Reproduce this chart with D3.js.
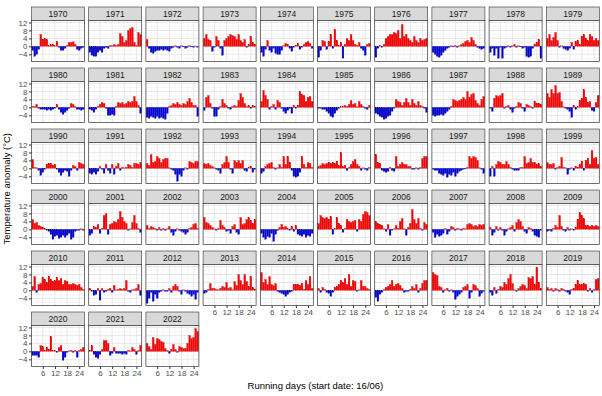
<!DOCTYPE html>
<html><head><meta charset="utf-8">
<script src="https://cdn.jsdelivr.net/npm/d3@7"></script>
<style>body{margin:0;background:#fff}svg{display:block;font-family:"Liberation Sans",Arial,sans-serif}</style>
</head><body>
<script>
const years = [1970,1971,1972,1973,1974,1975,1976,1977,1978,1979,1980,1981,1982,1983,1984,1985,1986,1987,1988,1989,1990,1991,1992,1993,1994,1995,1996,1997,1998,1999,2000,2001,2002,2003,2004,2005,2006,2007,2008,2009,2010,2011,2012,2013,2014,2015,2016,2017,2018,2019,2020,2021,2022];
const days = [1,2,3,4,5,6,7,8,9,10,11,12,13,14,15,16,17,18,19,20,21,22,23,24,25,26];
const xTicks = [6,12,18,24];
const yTicks = [-4,0,4,8,12];

const a1970 = [-2,-5,-4,-1.5,6,3.5,4,3.5,0.5,0.8,1,0.3,2.5,-0.5,-2,-2,-1,0.5,2,2,2.3,1,-1.5,-2,-1,-0.5];
const a1971 = [-3,-4.5,-5,-5,-3,-2,-3,-1,-0.5,-1,0.5,0.3,1,0.5,1,6.5,5,2,3,8,9,9.5,2,0.5,7,6];
const a1972 = [3.5,-1,-3,-3.5,-2.5,-2,-2,-1.5,-2,-1.5,-2,-2.5,-1,-0.5,0.3,-0.5,-1,0.3,-0.3,-1,-0.5,0.3,-0.3,-0.5,0.2,-0.5];
const a1973 = [4,6,3.5,3,-2.5,-0.5,5,3,-1,-4.5,3,4,5,6,5.5,5,3.5,6,3,2,3.5,-0.5,1,5,2,1];
const a1974 = [-3,-5,-1.5,3,-2,-3,-1,-3.5,-4,-4,-2,0.5,1.5,1,-1,-2.5,-0.5,0.5,1.5,-1.5,-0.5,1,2,2.5,1.5,-1];
const a1975 = [-5.5,-2,3,2.5,-1.5,2.5,6,-1,8.5,3,0.5,2,-6,1,4,3,6,3,1,0.5,2,-1,-2,-4.5,1,1.5];
const a1976 = [-5.5,-1,0.5,-0.5,1,4,5,6,6,7,6.5,8,4,11,5,6,4,3,2,5,3,2,4,3,3.5,4];
const a1977 = [-3,-4,-5,-5.5,-4.5,-3,-2,-1,-0.5,0.3,-0.3,0.5,-0.5,0.3,1,1.5,2.5,3,2,4.5,3,1,-0.5,-1,-1.5,-1];
const a1978 = [-3,-1,-4.5,-1,-6,-0.5,-6,-1,-0.5,0.3,-0.5,0.3,1,-0.5,0.3,-0.3,-1,-0.5,-5,-5.5,-5,-1,1,2,3.5,-6];
const a1979 = [4,6,3,4.5,7,3,-0.5,0.3,-1,-1.5,-2,-1,2,-1.5,2.5,3,1,5,6,4,3,6,5,3,4,3];
const a1980 = [0.5,0.5,1.5,-0.5,-1,-1,-1,-1.5,-1,-1.5,-1,-0.5,1.5,-1,-2.5,-3.5,-2.5,-1.5,-0.5,2,1.5,0.5,-1,-1,-1.5,-1];
const a1981 = [-1,-1.5,-2.5,-1,0.5,1.5,2.5,2,-0.5,-4,-4,-3.5,-4,0.5,2.5,2,2.5,1.5,2,3,2.5,3,5.5,3,1,-3];
const a1982 = [-5,-5.5,-4.5,-5,-5.5,-4.5,-5.5,-5,-5.5,-6,-3,0.5,1,2,1.5,2.5,1.5,1,2,1.5,3,4.5,2.5,1,1,-4.5];
const a1983 = [-1.5,5,6,2,-0.5,-4.5,-4.5,-1,0.5,4,2,1,-0.5,-1,0.5,1,0.5,3.5,7,5,2,0.5,1,-0.5,1,0.5];
const a1984 = [3,8.5,6,4,-1,0.5,1.5,-1,3.5,2.5,-0.5,-2,-3,-1.5,-0.5,-3,1,-0.5,1,8,6.5,6,3,5,5.5,3];
const a1985 = [-0.5,-0.5,-1,-1,-2,-3,-4.5,-5,-3,-1.5,-0.5,0.3,0.5,1,0.5,1.5,3.5,1.5,2,0.3,3,1.5,0.5,-0.5,-1,1];
const a1986 = [-3,-3.5,-4.5,-5,-6,-5.5,-4.5,-4,-2,-0.5,4,3,2.5,1,2.5,4.5,2.5,1,4,2,1,3,1,0.5,-0.5,-2.5];
const a1987 = [-4,-4.5,-4,-4,-3.5,-4,-3,-2,-1,0.5,4,3.5,3,3.5,4,5,4,8,5,6.5,7,3.5,2,1,4,5.5];
const a1988 = [-0.5,-2,4.5,6,5.5,6,7,-0.5,0.5,1,-1,-2.5,-0.5,0.5,2.5,2,-0.5,-2,1.5,1,0.5,-0.5,3,2,2,1.5];
const a1989 = [7,5,9,7,11,7,7.5,3,0.3,-0.5,-1,-2,-5,1,-1,0.3,3.5,4.5,9,5,2.5,3,-1.5,-2,2.5,6];
const a1990 = [4.5,0.5,0.3,-1,-3.5,-2,-0.5,2,2.5,2.5,1.5,2,-0.5,-2,-3.5,-2,-1,-1.5,-4,-1,1.5,1,-1,3,2.5,2];
const a1991 = [-2.5,-3,-2,-3,-1.5,1,-0.5,-2.5,2,-1,-2.5,2,-3,1,2.5,-1,0.5,0.3,0.5,2,1.5,0.5,2.5,2.5,2,3];
const a1992 = [2.5,1.5,7,3,3.5,6,5,3,4.5,5,5,0.3,-0.5,-1,-3,-6.5,-3,-4,-1,0.3,-0.5,3.5,3,2.5,3.5,3.5];
const a1993 = [2.5,2,2.5,1.5,1,0.3,-0.5,-1,-2.5,2,3,6,3,-0.5,-2.5,4,3,4,2.5,4,-1,-1.5,0.5,1,-2,-0.5];
const a1994 = [-2.5,-1.5,1,2,2.5,3,0.5,-0.5,0.3,2,0.5,6,2,6,3,-1,-4,-4.5,-4,-2,6,2,0.5,3,2.5,0.5];
const a1995 = [1,1.5,2.5,2,2.5,3,2.5,3,2.5,3.5,1.5,8,1,1.5,-1,0.5,2,3.5,4.5,2,1,-1,0.3,-0.5,-1,0.5];
const a1996 = [7,3,2.5,-1,-1.5,-2,-1.5,0.5,-1,-1.5,6,1,2,3,2,2,1,1,-0.5,-0.5,0.3,-0.5,0.5,5,6,6];
const a1997 = [-0.5,-1,-1,-2.5,-3,-3.5,-2.5,-4.5,-3,-3.5,-2,-4,-2.5,-1.5,-1,-0.5,-0.3,0.5,6,5,6,5.5,4,0.3,-0.5,-2.5];
const a1998 = [-4,1,-4,2,3.5,3,2,2,3.5,2,0.5,-0.5,-1,-1,-1,0.5,0.5,6,2.5,3,5,3,3,2,2.5,1];
const a1999 = [3,2,2,2.5,-0.5,0.5,1,5.5,0.5,0.3,-3,-0.5,0.3,-1,1,0.5,2,3.5,-1,4,5,2,9,5,5.5,2];
const a2000 = [5,3,3.5,2,1.5,1,0.5,-0.5,-1,-2.5,-5,-3.5,-3,-4.5,-4,-3,-4,-3,-2,-5,-4,-1,-0.5,-0.5,0.3,-0.5];
const a2001 = [-3,-2,1.5,1,2.5,-2,0.5,7,8,-2.5,2.5,3,4,3.5,5,9,6,4,3,-0.5,0.3,3.5,7,3,0.5,-1.5];
const a2002 = [2,0.5,1.5,1,0.5,-0.5,1,-0.5,0.5,-0.5,0.3,1.5,-1.5,-3,-1,0.3,-0.5,-1,-1.5,-2.5,-1.5,0.5,1,2.5,3,0.5];
const a2003 = [6,3.5,3,2,1,0.3,-0.5,0.5,4.5,2,1,-1,-0.5,-2,1.5,2.5,-1.5,-2.5,6,2.5,3,5,6,4.5,3,5];
const a2004 = [-2,-4,-5,-3.5,-4,-2,-6,-2.5,-0.5,1,2.5,1,1.5,0.3,-0.5,1.5,-1,2,-2.5,-3,-3.5,-2.5,-4,-3,-3.5,-2];
const a2005 = [3,7,6,5.5,6,5,6.5,-2.5,0.5,6,3,2,-1.5,0.5,5,4,3.5,4,4.5,-1,5,4,7.5,9,8.5,7];
const a2006 = [4,3,2.5,2,0.3,-1,2.5,-3,-0.5,0.3,2,0.5,4,5.5,0.3,-3,1,3,10,5,3,5.5,0.5,-0.5,3.5,2.5];
const a2007 = [-1.5,-4,-2.5,-3.5,-3,-2,0.5,-2.5,-1,1.5,1,-0.5,0.5,0.3,-0.5,0.5,0.3,2.5,3,2.5,1.5,2,1.5,2.5,2,2.5];
const a2008 = [1,-3,-1.5,1.5,-0.5,1,-0.5,-3,-1,0.3,1,2,-1,3.5,5,4,1.5,-1,-2,1,0.5,-1,-3,-3.5,-4,-0.5];
const a2009 = [-1,-0.5,-1,0.5,2,1,7,1.5,-0.5,-1,1,-0.5,0.3,-0.5,1,5,8.5,7,5.5,2,2,1.5,2,1.5,2,1.5];
const a2010 = [2,7,-1,3,3.5,6.5,5.5,4,7,5.5,4.5,5,6.5,5,6,3,5,4.5,3,3,3.5,3,2.5,3,1.5,0.5];
const a2011 = [1,-0.5,-2.5,-2,1,-5,1,-1,-0.5,0.5,1,-1,2.5,0.3,0.5,1,0.5,1,5,-0.5,-1,0.3,0.5,1,3,-2.5];
const a2012 = [-6.5,-4,-1,-5.5,-2,-4,-1,-0.5,0.3,-0.5,-0.5,1,-1,2,3,2,-0.5,-2,0.3,-0.5,-1.5,-2,-3,-2,-4.5,-1];
const a2013 = [-1.5,-1,0.5,3.5,1,1,0.5,0.3,1,2,1.5,4,1,1.5,0.3,4.5,2.5,8,5,3,8,4.5,2,7,1.5,0.5];
const a2014 = [9,4,5.5,3,7,3,2.5,3.5,-0.5,-1,-1.5,-2,-3,-2,-1,-0.5,3,3,3,2.5,3.5,0.5,5,3,7,1];
const a2015 = [1,-1,1.5,0.5,-1,-1.5,-3,-1,1.5,2,3,5,4,6,3,8,2,5,4.5,-0.5,0.3,5,2,2,1,0.5];
const a2016 = [-3.5,-5.5,-2,-1,0.5,1.5,2,3,5,2,3,3.5,2.5,1,-1,-0.5,-0.5,0.5,2,1,3,-1,1,3.5,5,5];
const a2017 = [9,8,7.5,2,1.5,-1,0.3,1,-0.5,0.3,-1,-4.5,-3,-2,-1,1.5,2,3,-4,-1,3,2.5,1,-3,-1.5,-0.5];
const a2018 = [-1,-2.5,1.5,-1.5,0.5,2,1.5,4,3,6,8,3.5,0.3,-0.5,1,2,3,2.5,1,6.5,6,7,3,11.5,4,1];
const a2019 = [1.5,0.5,1,-0.5,1,0.5,-0.5,1,0.5,-0.5,-1,-2,0.5,1,3,5,3,3,3.5,3,-0.5,1,-1,0.5,5.5,6];
const a2020 = [-2,-2,-2,-3,3,2.5,0.5,2,1,7.5,0.3,0.5,-0.5,2,3,-4.5,-3,-0.5,0.3,0.5,-0.5,0.5,-3,0.5,1,2];
const a2021 = [0.5,3,-1.5,-3,-3.5,-1.5,1,5.5,5.5,4,-2,-1,2,-1,-1,-1,-1.5,-1,-1.5,0.5,0.3,2,1,-1.5,0.5,3];
const a2022 = [4,2.5,1,7,3.5,6.5,6,5,4.5,1.5,0.5,-1,1,3.5,1,-0.5,2.5,2,1.5,1.5,4,8,6.5,7,11.5,10];

const series = [a1970,a1971,a1972,a1973,a1974,a1975,a1976,a1977,a1978,a1979,
  a1980,a1981,a1982,a1983,a1984,a1985,a1986,a1987,a1988,a1989,
  a1990,a1991,a1992,a1993,a1994,a1995,a1996,a1997,a1998,a1999,
  a2000,a2001,a2002,a2003,a2004,a2005,a2006,a2007,a2008,a2009,
  a2010,a2011,a2012,a2013,a2014,a2015,a2016,a2017,a2018,a2019,
  a2020,a2021,a2022];

const W = 602, H = 396;
const ncol = 10;
const left0 = 31.5, pitchX = 57.2, panelW = 53;
const top0 = 7, pitchY = 61, stripH = 13.5, plotH = 41;

const svg = d3.select("body").append("svg").attr("width", W).attr("height", H);
svg.append("rect").attr("width", W).attr("height", H).attr("fill", "#fff");

const x = d3.scaleLinear().domain([0.4, 26.6]).range([0, panelW]);
const y = d3.scaleLinear().domain([-7.6, 13]).range([plotH, 0]);
const yMinor = [-6,-2,2,6,10];
const xMinor = [3,9,15,21];
const n = years.length;

years.forEach((yr, i) => {
  const col = i % ncol, row = Math.floor(i / ncol);
  const g = svg.append("g").attr("transform", `translate(${left0 + col*pitchX},${top0 + row*pitchY})`);
  g.append("rect").attr("width", panelW).attr("height", stripH)
    .attr("fill", "#D9D9D9").attr("stroke", "#333").attr("stroke-width", 0.6);
  g.append("text").attr("x", panelW/2).attr("y", stripH/2 + 0.5)
    .attr("text-anchor", "middle").attr("dominant-baseline", "central")
    .attr("font-size", 8.5).attr("fill", "#1A1A1A").text(yr);
  const p = g.append("g").attr("transform", `translate(0,${stripH})`);
  p.append("rect").attr("width", panelW).attr("height", plotH).attr("fill", "#fff");
  p.selectAll(".ymi").data(yMinor).join("line")
    .attr("x1", 0).attr("x2", panelW).attr("y1", d => y(d)).attr("y2", d => y(d))
    .attr("stroke", "#EEEEEE").attr("stroke-width", 0.5);
  p.selectAll(".xmi").data(xMinor).join("line")
    .attr("y1", 0).attr("y2", plotH).attr("x1", d => x(d)).attr("x2", d => x(d))
    .attr("stroke", "#EEEEEE").attr("stroke-width", 0.5);
  p.selectAll(".yma").data(yTicks).join("line")
    .attr("x1", 0).attr("x2", panelW).attr("y1", d => y(d)).attr("y2", d => y(d))
    .attr("stroke", "#E2E2E2").attr("stroke-width", 0.8);
  p.selectAll(".xma").data(xTicks).join("line")
    .attr("y1", 0).attr("y2", plotH).attr("x1", d => x(d)).attr("x2", d => x(d))
    .attr("stroke", "#E2E2E2").attr("stroke-width", 0.8);
  const vals = series[i];
  const bw = x(0.9) - x(0);
  p.selectAll(".bar").data(days).join("rect")
    .attr("x", d => x(d - 0.45))
    .attr("width", bw)
    .attr("y", (d, k) => Math.min(y(vals[k]), y(0)))
    .attr("height", (d, k) => Math.max(0.4, Math.abs(y(vals[k]) - y(0))))
    .attr("fill", (d, k) => vals[k] >= 0 ? "#FF0000" : "#0000DD")
    .attr("stroke", (d, k) => vals[k] >= 0 ? "#B00000" : "#00006A")
    .attr("stroke-width", 0.2);
  p.append("rect").attr("width", panelW).attr("height", plotH)
    .attr("fill", "none").attr("stroke", "#333").attr("stroke-width", 0.7);
  if (col === 0) {
    const ax = p.append("g").call(d3.axisLeft(y).tickValues(yTicks).tickSize(2.5).tickPadding(1.5));
    ax.select(".domain").remove();
    ax.selectAll("line").attr("stroke", "#333");
    ax.selectAll("text").attr("font-size", 8).attr("fill", "#4D4D4D").attr("font-family", "Liberation Sans, Arial, sans-serif");
  }
  if (i + ncol >= n) {
    const ax = p.append("g").attr("transform", `translate(0,${plotH})`)
      .call(d3.axisBottom(x).tickValues(xTicks).tickSize(2.5).tickPadding(1.5));
    ax.select(".domain").remove();
    ax.selectAll("line").attr("stroke", "#333");
    ax.selectAll("text").attr("font-size", 8).attr("fill", "#4D4D4D").attr("font-family", "Liberation Sans, Arial, sans-serif");
  }
});

svg.append("text").attr("transform", `translate(10,${top0 + (5*pitchY + stripH + plotH)/2 + 2}) rotate(-90)`)
  .attr("text-anchor", "middle").attr("font-size", 9.5).attr("fill", "#000")
  .text("Temperature anomaly (°C)");
svg.append("text").attr("x", left0 + (9*pitchX + panelW)/2).attr("y", 389)
  .attr("text-anchor", "middle").attr("font-size", 9.5).attr("fill", "#000")
  .text("Running days (start date: 16/06)");
</script>
</body></html>
